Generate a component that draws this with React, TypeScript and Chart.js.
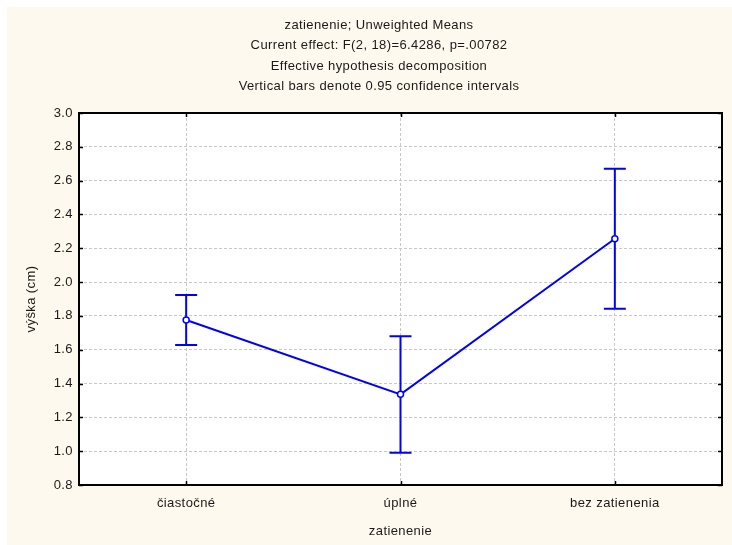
import React, { useEffect, useRef } from 'react';
import { Chart, registerables } from 'chart.js';

Chart.register(...registerables);

const categories = ['čiastočné', 'úplné', 'bez zatienenia'];
const means = [1.776, 1.336, 2.256];
const ciLower = [1.628, 0.99, 1.842];
const ciUpper = [1.924, 1.68, 2.67];
const yTicks = [0.8, 1.0, 1.2, 1.4, 1.6, 1.8, 2.0, 2.2, 2.4, 2.6, 2.8, 3.0];
const titleLines = [
  'zatienenie; Unweighted Means',
  'Current effect: F(2, 18)=6.4286, p=.00782',
  'Effective hypothesis decomposition',
  'Vertical bars denote 0.95 confidence intervals',
];
const xTitle = 'zatienenie';
const yTitle = 'výška (cm)';

const FONT = "Arial, 'Liberation Sans', sans-serif";
const FONT_SIZE = 13;
const TEXT = '#1a1a1a';
const CREAM = '#fef9ee';
const BLUE = '#0000ff';

const backgroundPlugin = {
  id: 'panelBackground',
  beforeDraw(chart: any) {
    const { ctx, chartArea } = chart;
    // slightly open letter spacing for every label drawn after this point
    ctx.letterSpacing = '0.4px';
    ctx.save();
    ctx.fillStyle = CREAM;
    ctx.fillRect(0, 0, chart.width, chart.height);
    ctx.fillStyle = '#ffffff';
    ctx.fillRect(chartArea.left, chartArea.top, chartArea.right - chartArea.left, chartArea.bottom - chartArea.top);
    ctx.restore();
  },
};

// four-line heading block above the plot
const headingPlugin = {
  id: 'heading',
  afterDraw(chart: any) {
    const { ctx } = chart;
    ctx.save();
    ctx.letterSpacing = '0.4px';
    ctx.font = `${FONT_SIZE}px ${FONT}`;
    ctx.fillStyle = TEXT;
    ctx.textAlign = 'center';
    ctx.textBaseline = 'middle';
    titleLines.forEach((line, i) => {
      ctx.fillText(line, 372, 18 + i * 20.5);
    });
    ctx.restore();
  },
};

const errorBarPlugin = {
  id: 'ciBars',
  beforeDatasetsDraw(chart: any) {
    const { ctx, scales } = chart;
    const cap = 11;
    ctx.save();
    ctx.strokeStyle = BLUE;
    ctx.lineWidth = 2;
    categories.forEach((_, i) => {
      const x = scales.x.getPixelForValue(i);
      const yLo = scales.y.getPixelForValue(ciLower[i]);
      const yHi = scales.y.getPixelForValue(ciUpper[i]);
      ctx.beginPath();
      ctx.moveTo(x, yLo);
      ctx.lineTo(x, yHi);
      ctx.moveTo(x - cap, yHi);
      ctx.lineTo(x + cap, yHi);
      ctx.moveTo(x - cap, yLo);
      ctx.lineTo(x + cap, yLo);
      ctx.stroke();
    });
    ctx.restore();
  },
};

const framePlugin = {
  id: 'plotFrame',
  afterDraw(chart: any) {
    const { ctx, chartArea, scales } = chart;
    const { left, right, top, bottom } = chartArea;
    const t = 4;
    ctx.save();
    ctx.strokeStyle = '#000000';
    ctx.lineWidth = 1.5;
    ctx.beginPath();
    yTicks.forEach((v) => {
      const y = Math.round(scales.y.getPixelForValue(v)) + 0.5;
      ctx.moveTo(left, y);
      ctx.lineTo(left + t, y);
      ctx.moveTo(right, y);
      ctx.lineTo(right - t, y);
    });
    categories.forEach((_, i) => {
      const x = Math.round(scales.x.getPixelForValue(i)) + 0.5;
      ctx.moveTo(x, top);
      ctx.lineTo(x, top + t);
      ctx.moveTo(x, bottom);
      ctx.lineTo(x, bottom - t);
    });
    ctx.stroke();
    ctx.lineWidth = 2;
    ctx.strokeRect(left, top, right - left, bottom - top);
    ctx.restore();
  },
};

export default function App() {
  const canvasRef = useRef<HTMLCanvasElement | null>(null);

  useEffect(() => {
    const canvas = canvasRef.current;
    if (!canvas) return;
    const chart = new Chart(canvas, {
      type: 'line',
      data: {
        labels: categories,
        datasets: [
          {
            data: means,
            borderColor: BLUE,
            borderWidth: 2,
            pointRadius: 3,
            pointBorderWidth: 1.5,
            pointBackgroundColor: '#ffffff',
            pointBorderColor: BLUE,
            tension: 0,
            fill: false,
          },
        ],
      },
      options: {
        responsive: false,
        animation: false,
        devicePixelRatio: 1,
        layout: { padding: { left: 0, right: 10, top: 106, bottom: 0 } },
        plugins: {
          legend: { display: false },
          tooltip: { enabled: false },
          title: { display: false },
        },
        scales: {
          x: {
            type: 'category',
            offset: true,
            grid: {
              offset: false,
              color: '#c8c8c8',
              lineWidth: 1,
              drawTicks: false,
            },
            border: { display: false, dash: [3, 2] },
            ticks: { color: TEXT, font: { family: FONT, size: FONT_SIZE }, padding: 11 },
            title: {
              display: true,
              text: xTitle,
              color: TEXT,
              font: { family: FONT, size: FONT_SIZE },
              padding: { top: 0, bottom: 6 },
            },
            afterFit(scale: any) {
              scale.height = 60;
            },
          },
          y: {
            type: 'linear',
            min: 0.8,
            max: 3.0,
            grid: { color: '#c8c8c8', lineWidth: 1, drawTicks: false },
            border: { display: false, dash: [3, 2] },
            afterBuildTicks(scale: any) {
              scale.ticks = yTicks.map((v) => ({ value: v }));
            },
            ticks: {
              color: TEXT,
              font: { family: FONT, size: FONT_SIZE },
              padding: 6,
              callback: (v: any) => Number(v).toFixed(1),
            },
            title: {
              display: true,
              text: yTitle,
              color: TEXT,
              font: { family: FONT, size: FONT_SIZE },
              padding: { top: 17, bottom: 0 },
            },
            afterFit(scale: any) {
              scale.width = 72;
            },
          },
        },
      },
      plugins: [backgroundPlugin, errorBarPlugin, framePlugin, headingPlugin],
    });
    return () => chart.destroy();
  }, []);

  return (
    <div style={{ position: 'fixed', left: 0, top: 0, width: 732, height: 545, background: '#ffffff' }}>
      <canvas
        ref={canvasRef}
        width={725}
        height={538}
        style={{ position: 'absolute', left: 7, top: 7, width: 725, height: 538 }}
      />
    </div>
  );
}
